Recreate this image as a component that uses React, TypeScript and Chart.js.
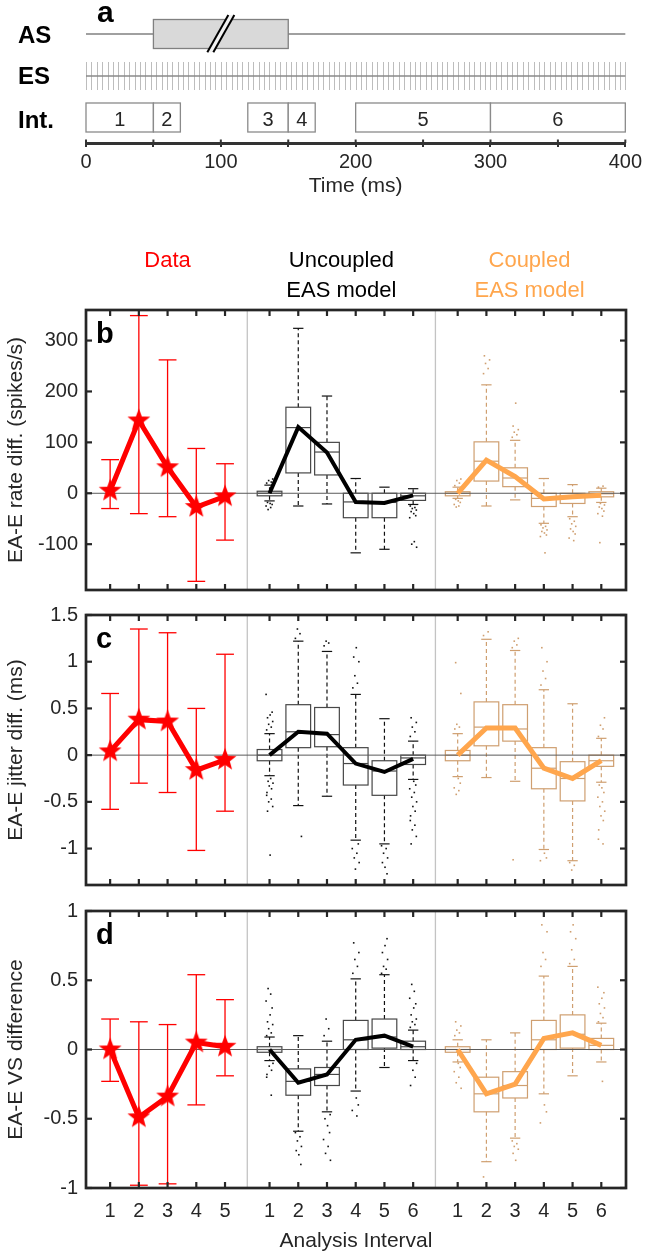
import React, { useEffect, useRef } from 'react';
import { Chart, registerables } from 'chart.js';

Chart.register(...registerables);

const FONT = "'Liberation Sans', Arial, Helvetica, sans-serif";
const INK = '#262626';
const RED = '#ff0000';
const ORANGE = '#ffa64d';
const TAN = '#cf9f70';
const GRAYBOX = '#474747';

// ---------- panel a (timeline) ----------
const timeMin = 0;
const timeMax = 400;
const timeStep = 50;
const timeLabelStep = 100;
const asOn = [50, 150];
const asBreak = 100;
const esPeriod = 4;
const intStart = [0, 50, 120, 150, 200, 300];
const intEnd = [50, 70, 150, 170, 300, 400];
const intNames = ['1', '2', '3', '4', '5', '6'];

// ---------- panels b-d ----------
const dataIntervals = ['1', '2', '3', '4', '5'];
const modelIntervals = ['1', '2', '3', '4', '5', '6'];
const groupTitles = [['Data'], ['Uncoupled', 'EAS model'], ['Coupled', 'EAS model']];

// b: rate difference
const rateTicks = [-100, 0, 100, 200, 300];
const rateRange = [-190, 360];
const rateData = [5, 143, 51, -27, -6];
const rateHi = [66, 349, 262, 88, 58];
const rateLo = [-30, -40, -46, -173, -92];
const rateUncMean = [0, 130, 80, -17, -19, -4];
const rateCoupMean = [0, 65, 33, -11, -7, -4];
// [q1, median, q3, whiskerLow, whiskerHigh]
const rateUncBox = [[-5, 0, 4, -15, 16], [40, 129, 169, -25, 324], [36, 81, 100, -21, 191], [-48, -17, 0, -117, 29], [-48, -18, 0, -110, 12], [-14, -5, 0, -22, 9]];
const rateCoupBox = [[-5, 0, 3, -10, 12], [24, 63, 101, -25, 213], [13, 30, 50, -13, 104], [-26, -10, 0, -59, 29], [-20, -6, 0, -46, 17], [-7, -1, 3, -18, 10]];
const rateUncOut = [[20, 22, 25, 28, -18, -20, -22, -25, -28, -32], [], [], [], [], [-25, -28, -30, -33, -36, -40, -44, -48, -95, -100, -106]];
const rateCoupOut = [[15, 20, 25, 28, -12, -15, -18, -22, -25, -27], [235, 245, 255, 262, 270], [110, 115, 120, 125, 132, 177], [-62, -65, -68, -72, -75, -78, -82, -85, -117], [-50, -55, -60, -65, -70, -75, -80, -88, -93], [12, 14, -20, -23, -27, -30, -35, -40, -45, -97]];

// c: jitter difference
const jitTicks = [-1, -0.5, 0, 0.5, 1, 1.5];
const jitRange = [-1.39, 1.5];
const jitData = [0.04, 0.38, 0.36, -0.16, -0.05];
const jitHi = [0.66, 1.35, 1.31, 0.5, 1.08];
const jitLo = [-0.58, -0.3, -0.4, -1.02, -0.6];
const jitUncMean = [0, 0.25, 0.23, -0.09, -0.18, -0.04];
const jitCoupMean = [0, 0.29, 0.29, -0.14, -0.25, -0.06];
const jitUncBox = [[-0.06, 0, 0.06, -0.22, 0.23], [0.08, 0.25, 0.54, -0.54, 1.22], [0.09, 0.22, 0.51, -0.44, 1.11], [-0.32, -0.09, 0.08, -0.91, 0.65], [-0.43, -0.17, -0.06, -0.95, 0.39], [-0.1, -0.03, 0, -0.26, 0.15]];
const jitCoupBox = [[-0.06, 0, 0.05, -0.23, 0.23], [0.1, 0.3, 0.57, -0.24, 1.24], [0.15, 0.28, 0.54, -0.28, 1.12], [-0.36, -0.14, 0.08, -1.01, 0.7], [-0.49, -0.25, -0.07, -1.13, 0.55], [-0.12, -0.06, 0, -0.29, 0.18]];
const jitUncOut = [[0.27, 0.3, 0.33, 0.36, 0.4, 0.43, 0.46, 0.65, -0.25, -0.28, -0.3, -0.33, -0.36, -0.4, -0.43, -0.47, -0.5, -0.55, -0.6, -1.07], [1.25, 1.3, 1.35, -0.87], [1.17, 1.2, 1.22], [0.72, 0.77, 0.85, 1.0, 1.05, 1.15, -0.95, -1.0, -1.05, -1.1, -1.15, -1.22], [-0.97, -1.0, -1.05, -1.1, -1.15, -1.2, -1.27], [0.2, 0.25, 0.3, 0.35, 0.4, -0.28, -0.32, -0.36, -0.4, -0.45, -0.5, -0.55, -0.6, -0.65, -0.7, -0.75, -0.8, -0.87, -0.95]];
const jitCoupOut = [[0.28, 0.3, 0.33, 0.66, 0.99, -0.25, -0.3, -0.35, -0.38, -0.42], [1.28, 1.32], [1.15, 1.18, 1.22, 1.25, -1.12], [0.75, 0.82, 0.9, 1.0, 1.15, -1.05, -1.1, -1.13], [-1.15, -1.18, -1.23], [0.2, 0.28, 0.32, 0.4, -0.32, -0.35, -0.4, -0.45, -0.5, -0.55, -0.6, -0.65, -0.7, -0.8, -0.9, -0.95]];

// d: vector strength difference
const vsTicks = [-1, -0.5, 0, 0.5, 1];
const vsRange = [-1, 1];
const vsData = [0, -0.49, -0.34, 0.05, 0.02];
const vsHi = [0.22, 0.2, 0.18, 0.54, 0.36];
const vsLo = [-0.23, -0.98, -0.97, -0.4, -0.19];
const vsUncMean = [0, -0.24, -0.18, 0.07, 0.1, 0.02];
const vsCoupMean = [0, -0.32, -0.25, 0.08, 0.12, 0.03];
const vsUncBox = [[-0.02, 0, 0.02, -0.08, 0.09], [-0.33, -0.23, -0.14, -0.59, 0.1], [-0.26, -0.18, -0.13, -0.45, 0.06], [0, 0.07, 0.21, -0.3, 0.51], [0.01, 0.09, 0.22, -0.13, 0.54], [0, 0.02, 0.06, -0.08, 0.14]];
const vsCoupBox = [[-0.02, 0, 0.02, -0.09, 0.07], [-0.45, -0.32, -0.2, -0.81, 0.07], [-0.35, -0.26, -0.16, -0.64, 0.12], [0, 0.07, 0.21, -0.32, 0.53], [0.01, 0.11, 0.25, -0.19, 0.6], [0, 0.03, 0.08, -0.09, 0.19]];
const vsUncOut = [[0.1, 0.12, 0.15, 0.18, 0.2, 0.25, 0.3, 0.35, 0.4, 0.44, -0.1, -0.12, -0.15, -0.18, -0.2, -0.33], [-0.6, -0.63, -0.66, -0.7, -0.73, -0.76, -0.83], [0.1, 0.15, 0.22, -0.47, -0.5, -0.55, -0.6, -0.65, -0.7, -0.75, -0.8], [0.55, 0.6, 0.65, 0.7, 0.77, -0.35, -0.4, -0.44, -0.48], [0.55, 0.58, 0.6, 0.65, 0.7, 0.75, 0.8], [0.16, 0.18, 0.2, 0.22, 0.25, 0.3, 0.33, 0.37, 0.42, 0.47, -0.1, -0.15, -0.2, -0.26]];
const vsCoupOut = [[0.1, 0.12, 0.14, 0.17, 0.2, -0.1, -0.13, -0.16, -0.2, -0.24, -0.28], [-0.92], [-0.66, -0.68, -0.7, -0.72, -0.75, -0.8], [0.6, 0.65, 0.7, 0.85, 0.9, -0.4, -0.45, -0.53], [0.62, 0.65, 0.72, 0.8, 0.85, 0.9], [0.2, 0.23, 0.26, 0.3, 0.33, 0.37, 0.41, 0.45, -0.23]];

// ---------- layout of the category axis ----------
const GROUP_START = [1, 6.55, 13.1];
const X_MIN = 0.16;
const X_MAX = 18.96;
const BOX_W = 0.86;
const CAP_W = 0.36;
const ERR_CAP_W = 0.62;
const JITTER = [-0.1, 0.06, -0.03, 0.11, -0.07, 0.02, 0.09, -0.12, 0.04, -0.05, 0.12, -0.01, 0.07, -0.09];

const dataPos = dataIntervals.map((_, i) => GROUP_START[0] + i);
const uncPos = modelIntervals.map((_, i) => GROUP_START[1] + i);
const coupPos = modelIntervals.map((_, i) => GROUP_START[2] + i);
const allPos = [...dataPos, ...uncPos, ...coupPos];
const allLabels = [...dataIntervals, ...modelIntervals, ...modelIntervals];
const separators = [(dataPos[dataPos.length - 1] + uncPos[0]) / 2, (uncPos[uncPos.length - 1] + coupPos[0]) / 2];

function makeStar(r: number, color: string) {
  const c = document.createElement('canvas');
  const s = Math.ceil(r * 2 + 2);
  c.width = s;
  c.height = s;
  const g = c.getContext('2d')!;
  g.fillStyle = color;
  g.beginPath();
  for (let i = 0; i < 10; i++) {
    const ang = -Math.PI / 2 + (i * Math.PI) / 5;
    const rr = i % 2 === 0 ? r : r * 0.42;
    g.lineTo(s / 2 + rr * Math.cos(ang), s / 2 + rr * Math.sin(ang));
  }
  g.closePath();
  g.fill();
  return c;
}

function seg(ctx: CanvasRenderingContext2D, x1: number, y1: number, x2: number, y2: number) {
  ctx.beginPath();
  ctx.moveTo(x1, y1);
  ctx.lineTo(x2, y2);
  ctx.stroke();
}

function drawBoxes(ctx: CanvasRenderingContext2D, x: any, y: any, pos: number[], boxes: number[][], outs: number[][], color: string, whiskColor: string) {
  const hw = (x.getPixelForValue(BOX_W) - x.getPixelForValue(0)) / 2;
  const cw = (x.getPixelForValue(CAP_W) - x.getPixelForValue(0)) / 2;
  boxes.forEach((b, i) => {
    const [q1, med, q3, lo, hi] = b;
    const cx = x.getPixelForValue(pos[i]);
    const py = (v: number) => y.getPixelForValue(v);
    ctx.lineWidth = 1.2;
    ctx.strokeStyle = whiskColor;
    ctx.setLineDash([4, 3]);
    seg(ctx, cx, py(q3), cx, py(hi));
    seg(ctx, cx, py(q1), cx, py(lo));
    ctx.setLineDash([]);
    seg(ctx, cx - cw, py(hi), cx + cw, py(hi));
    seg(ctx, cx - cw, py(lo), cx + cw, py(lo));
    ctx.strokeStyle = color;
    ctx.strokeRect(cx - hw, py(q3), 2 * hw, py(q1) - py(q3));
    seg(ctx, cx - hw, py(med), cx + hw, py(med));
    ctx.fillStyle = whiskColor;
    outs[i].forEach((v, k) => {
      const jx = x.getPixelForValue(pos[i] + JITTER[k % JITTER.length]);
      ctx.fillRect(jx - 0.8, py(v) - 0.8, 1.6, 1.6);
    });
  });
}

type PanelCfg = {
  letter: string;
  yTitle: string;
  yTicks: number[];
  yLabels: string[];
  yRange: number[];
  data: number[];
  hi: number[];
  lo: number[];
  uncMean: number[];
  coupMean: number[];
  uncBox: number[][];
  coupBox: number[][];
  uncOut: number[][];
  coupOut: number[][];
  headers?: boolean;
  xAxis?: boolean;
};

const panels: PanelCfg[] = [
  { letter: 'b', yTitle: 'EA-E rate diff. (spikes/s)', yTicks: rateTicks, yLabels: ['-100', '0', '100', '200', '300'], yRange: rateRange, data: rateData, hi: rateHi, lo: rateLo, uncMean: rateUncMean, coupMean: rateCoupMean, uncBox: rateUncBox, coupBox: rateCoupBox, uncOut: rateUncOut, coupOut: rateCoupOut, headers: true },
  { letter: 'c', yTitle: 'EA-E jitter diff. (ms)', yTicks: jitTicks, yLabels: ['-1', '-0.5', '0', '0.5', '1', '1.5'], yRange: jitRange, data: jitData, hi: jitHi, lo: jitLo, uncMean: jitUncMean, coupMean: jitCoupMean, uncBox: jitUncBox, coupBox: jitCoupBox, uncOut: jitUncOut, coupOut: jitCoupOut },
  { letter: 'd', yTitle: 'EA-E VS difference', yTicks: vsTicks, yLabels: ['-1', '-0.5', '0', '0.5', '1'], yRange: vsRange, data: vsData, hi: vsHi, lo: vsLo, uncMean: vsUncMean, coupMean: vsCoupMean, uncBox: vsUncBox, coupBox: vsCoupBox, uncOut: vsUncOut, coupOut: vsCoupOut, xAxis: true },
];

// canvas placement: [top, height, padTop, padBottom]
const panelBoxes = [
  [230, 380, 80, 12],
  [595, 310, 10, 12],
  [891, 367, 10, 0],
];

function panelPlugin(p: PanelCfg) {
  return {
    id: 'panel_' + p.letter,
    beforeDatasetsDraw(chart: any) {
      const { ctx, chartArea: a, scales } = chart;
      const x = scales.x;
      const y = scales.y;
      ctx.save();
      ctx.strokeStyle = '#c3c3c3';
      ctx.lineWidth = 1.3;
      separators.forEach((s) => {
        const px = x.getPixelForValue(s);
        seg(ctx, px, a.top, px, a.bottom);
      });
      drawBoxes(ctx, x, y, uncPos, p.uncBox, p.uncOut, GRAYBOX, '#111111');
      drawBoxes(ctx, x, y, coupPos, p.coupBox, p.coupOut, TAN, TAN);
      ctx.strokeStyle = '#5a5a5a';
      ctx.lineWidth = 1;
      const zy = y.getPixelForValue(0);
      seg(ctx, a.left, zy, a.right, zy);
      // error bars
      ctx.strokeStyle = RED;
      ctx.lineWidth = 1.3;
      const ew = (x.getPixelForValue(ERR_CAP_W) - x.getPixelForValue(0)) / 2;
      dataPos.forEach((pv, i) => {
        const cx = x.getPixelForValue(pv);
        const yh = y.getPixelForValue(p.hi[i]);
        const yl = y.getPixelForValue(p.lo[i]);
        seg(ctx, cx, yh, cx, yl);
        seg(ctx, cx - ew, yh, cx + ew, yh);
        seg(ctx, cx - ew, yl, cx + ew, yl);
      });
      ctx.restore();
    },
    afterDatasetsDraw(chart: any) {
      const { ctx, chartArea: a, scales } = chart;
      const x = scales.x;
      const y = scales.y;
      ctx.save();
      ctx.strokeStyle = INK;
      ctx.lineWidth = 2.2;
      const tl = 6;
      allPos.forEach((v) => {
        const px = x.getPixelForValue(v);
        seg(ctx, px, a.top, px, a.top + tl);
        seg(ctx, px, a.bottom, px, a.bottom - tl);
      });
      p.yTicks.forEach((v) => {
        const py = y.getPixelForValue(v);
        seg(ctx, a.left, py, a.left + tl, py);
        seg(ctx, a.right, py, a.right - tl, py);
      });
      ctx.lineWidth = 2.7;
      ctx.strokeRect(a.left, a.top, a.right - a.left, a.bottom - a.top);
      ctx.fillStyle = '#000';
      ctx.font = `bold 29px ${FONT}`;
      ctx.textAlign = 'left';
      ctx.textBaseline = 'alphabetic';
      ctx.fillText(p.letter, a.left + 10, a.top + 33);
      if (p.headers) {
        const groups = [dataPos, uncPos, coupPos];
        const colors = [RED, '#000000', ORANGE];
        ctx.font = `22px ${FONT}`;
        ctx.textAlign = 'center';
        groups.forEach((g, gi) => {
          const cx = (x.getPixelForValue(g[0]) + x.getPixelForValue(g[g.length - 1])) / 2;
          ctx.fillStyle = colors[gi];
          groupTitles[gi].forEach((t, li) => {
            ctx.fillText(t, cx, a.top - 43 + li * 30);
          });
        });
      }
      ctx.restore();
    },
  };
}

const panelAPlugin = {
  id: 'panelA',
  afterDraw(chart: any) {
    const { ctx, scales } = chart;
    const x = scales.x;
    const px = (v: number) => x.getPixelForValue(v);
    ctx.save();
    // AS row
    ctx.strokeStyle = '#808080';
    ctx.lineWidth = 1.3;
    seg(ctx, px(timeMin), 34, px(timeMax), 34);
    ctx.fillStyle = '#d9d9d9';
    ctx.fillRect(px(asOn[0]), 19.5, px(asOn[1]) - px(asOn[0]), 29);
    ctx.strokeRect(px(asOn[0]), 19.5, px(asOn[1]) - px(asOn[0]), 29);
    const bx = px(asBreak);
    ctx.fillStyle = '#f2f2f2';
    ctx.beginPath();
    ctx.moveTo(bx - 13.5, 52.3);
    ctx.lineTo(bx + 7.5, 15);
    ctx.lineTo(bx + 13.5, 15);
    ctx.lineTo(bx - 7.5, 52.3);
    ctx.closePath();
    ctx.fill();
    ctx.strokeStyle = '#000';
    ctx.lineWidth = 2;
    seg(ctx, bx - 13.5, 52.3, bx + 7.5, 15);
    seg(ctx, bx - 7.5, 52.3, bx + 13.5, 15);
    // ES row
    ctx.strokeStyle = '#bdbdbd';
    ctx.lineWidth = 1;
    for (let t = timeMin; t <= timeMax; t += esPeriod) {
      const p = Math.round(px(t)) + 0.5;
      seg(ctx, p, 62, p, 90);
    }
    ctx.strokeStyle = '#8a8a8a';
    ctx.lineWidth = 1.3;
    seg(ctx, px(timeMin), 76, px(timeMax), 76);
    // Int row
    ctx.strokeStyle = '#8a8a8a';
    ctx.lineWidth = 1.3;
    ctx.fillStyle = INK;
    ctx.font = `20px ${FONT}`;
    ctx.textAlign = 'center';
    ctx.textBaseline = 'alphabetic';
    intStart.forEach((s, i) => {
      ctx.fillStyle = '#ffffff';
      ctx.fillRect(px(s), 103, px(intEnd[i]) - px(s), 29);
      ctx.strokeRect(px(s), 103, px(intEnd[i]) - px(s), 29);
      ctx.fillStyle = INK;
      ctx.fillText(intNames[i], (px(s) + px(intEnd[i])) / 2, 125.5);
    });
    // upward axis marks
    ctx.strokeStyle = '#333';
    ctx.lineWidth = 2;
    x.ticks.forEach((t: any) => {
      const p = px(t.value);
      seg(ctx, p, 143, p, 139.5);
    });
    // row labels
    ctx.fillStyle = '#000';
    ctx.textAlign = 'left';
    ctx.font = `bold 24px ${FONT}`;
    ctx.fillText('AS', 18, 43);
    ctx.fillText('ES', 18, 84);
    ctx.fillText('Int.', 18, 128);
    ctx.font = `bold 30px ${FONT}`;
    ctx.fillText('a', 97, 22);
    ctx.restore();
  },
};

export default function App() {
  const aRef = useRef<HTMLCanvasElement>(null);
  const bRef = useRef<HTMLCanvasElement>(null);
  const cRef = useRef<HTMLCanvasElement>(null);
  const dRef = useRef<HTMLCanvasElement>(null);

  useEffect(() => {
    const charts: Chart[] = [];
    const star = makeStar(12, RED);

    charts.push(
      new Chart(aRef.current!, {
        type: 'scatter',
        data: { datasets: [] },
        options: {
          responsive: false,
          animation: false,
          devicePixelRatio: 1,
          events: [],
          layout: { padding: { left: 86, right: 19, top: 0, bottom: 0 } },
          plugins: { legend: { display: false }, tooltip: { enabled: false } },
          scales: {
            x: {
              type: 'linear',
              position: 'bottom',
              min: timeMin,
              max: timeMax,
              afterFit: (s: any) => { s.height = 57; },
              ticks: {
                stepSize: timeStep,
                autoSkip: false,
                maxRotation: 0,
                padding: 3,
                color: INK,
                font: { family: FONT, size: 20 },
                callback: (v: any) => (Number(v) % timeLabelStep === 0 ? String(v) : ''),
              },
              grid: { display: true, drawOnChartArea: false, drawTicks: true, tickLength: 4, color: '#333', lineWidth: 2 },
              border: { display: true, width: 3, color: '#333' },
              title: { display: true, text: 'Time (ms)', color: INK, font: { family: FONT, size: 21 }, padding: { top: 0, bottom: 1 } },
            },
            y: { display: false, min: 0, max: 1 },
          },
        },
        plugins: [panelAPlugin],
      } as any)
    );

    const refs = [bRef, cRef, dRef];
    panels.forEach((p, idx) => {
      const [, , padTop, padBottom] = panelBoxes[idx];
      const xScale: any = {
        type: 'linear',
        min: X_MIN,
        max: X_MAX,
        display: !!p.xAxis,
        afterBuildTicks: (s: any) => { s.ticks = allPos.map((v) => ({ value: v })); },
        grid: { display: false, drawTicks: false },
        border: { display: false },
      };
      if (p.xAxis) {
        xScale.afterFit = (s: any) => { s.height = 70; };
        xScale.ticks = {
          autoSkip: false,
          maxRotation: 0,
          padding: 11,
          color: INK,
          font: { family: FONT, size: 20 },
          callback: (_v: any, i: number) => allLabels[i],
        };
        xScale.title = { display: true, text: 'Analysis Interval', color: INK, font: { family: FONT, size: 21 }, padding: { top: 0, bottom: 4 } };
      }
      charts.push(
        new Chart(refs[idx].current!, {
          type: 'scatter',
          data: {
            datasets: [
              { data: p.uncMean.map((v, i) => ({ x: uncPos[i], y: v })), showLine: true, borderColor: '#000', borderWidth: 4, pointRadius: 0 },
              { data: p.coupMean.map((v, i) => ({ x: coupPos[i], y: v })), showLine: true, borderColor: ORANGE, borderWidth: 5, pointRadius: 0 },
              { data: p.data.map((v, i) => ({ x: dataPos[i], y: v })), showLine: true, borderColor: RED, backgroundColor: RED, borderWidth: 5, pointStyle: star, pointRadius: 12 },
            ],
          },
          options: {
            responsive: false,
            animation: false,
            devicePixelRatio: 1,
            events: [],
            layout: { padding: { left: 0, right: 19, top: padTop, bottom: padBottom } },
            plugins: { legend: { display: false }, tooltip: { enabled: false } },
            scales: {
              x: xScale,
              y: {
                type: 'linear',
                min: p.yRange[0],
                max: p.yRange[1],
                afterFit: (s: any) => { s.width = 86; },
                afterBuildTicks: (s: any) => { s.ticks = p.yTicks.map((v) => ({ value: v })); },
                ticks: {
                  autoSkip: false,
                  padding: 8,
                  color: INK,
                  font: { family: FONT, size: 20 },
                  callback: (_v: any, i: number) => p.yLabels[i],
                },
                grid: { display: false, drawTicks: false },
                border: { display: false },
                title: { display: true, text: p.yTitle, color: INK, font: { family: FONT, size: 21 }, padding: { top: 4, bottom: 0 } },
              },
            },
          },
          plugins: [panelPlugin(p)],
        } as any)
      );
    });

    return () => charts.forEach((c) => c.destroy());
  }, []);

  const cv = (top: number, height: number): React.CSSProperties => ({ position: 'absolute', left: 0, top, width: 645, height });

  return (
    <div style={{ position: 'absolute', left: 0, top: 0, width: 645, height: 1258, background: '#ffffff', overflow: 'hidden' }}>
      <canvas ref={aRef} width={645} height={200} style={cv(0, 200)} />
      <canvas ref={bRef} width={645} height={panelBoxes[0][1]} style={cv(panelBoxes[0][0], panelBoxes[0][1])} />
      <canvas ref={cRef} width={645} height={panelBoxes[1][1]} style={cv(panelBoxes[1][0], panelBoxes[1][1])} />
      <canvas ref={dRef} width={645} height={panelBoxes[2][1]} style={cv(panelBoxes[2][0], panelBoxes[2][1])} />
    </div>
  );
}
